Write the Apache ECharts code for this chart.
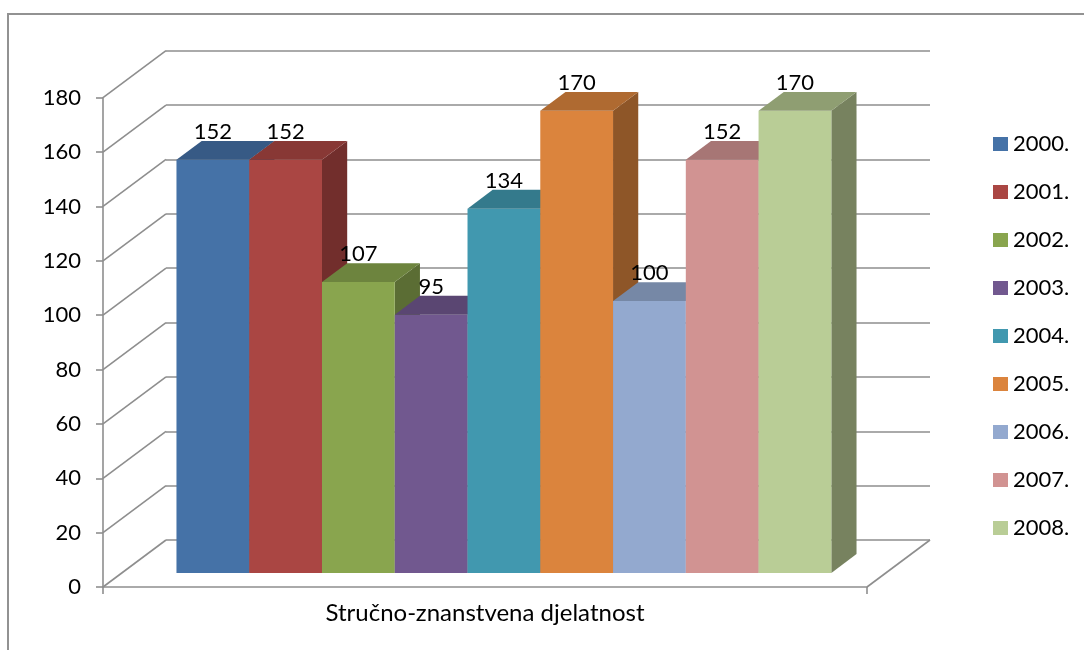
<!DOCTYPE html>
<html>
<head>
<meta charset="utf-8">
<script src="https://cdn.jsdelivr.net/npm/echarts@6/dist/echarts.min.js"></script>
<style>
html,body{margin:0;padding:0;background:#fff;}
#chart{width:1084px;height:650px;}
</style>
</head>
<body>
<div id="chart"></div>
<script>
// ---- data ----
const categories = ['Stručno-znanstvena djelatnost'];
const years = ['2000.', '2001.', '2002.', '2003.', '2004.', '2005.', '2006.', '2007.', '2008.'];
const values = [152, 152, 107, 95, 134, 170, 100, 152, 170];
const yTicks = [0, 20, 40, 60, 80, 100, 120, 140, 160, 180];

// ---- styles ----
const frontColors = ['#4572A7', '#AA4643', '#89A54E', '#71588F', '#4198AF', '#DB843D', '#93A9CF', '#D19392', '#B9CD96'];
const topColors   = ['#375A85', '#883835', '#6D843E', '#5A4672', '#347A8C', '#AF6A31', '#7688A6', '#A77675', '#8F9E72'];
const sideColors  = ['#2F4B6F', '#722E2C', '#5B6D34', '#4B3A5F', '#2B6574', '#8E5628', '#5F6E88', '#8A6160', '#77825F'];
const FONT = 'Lato, "Open Sans", sans-serif';
const DX = 63, DY = -47;          // full depth offset of the 3D box
const FRONT = 0.3, DEPTH = 0.4;   // bar front position and bar depth (fraction of box depth)
const GRID_COLOR = '#8e8e8e';

const chart = echarts.init(document.getElementById('chart'), null, {renderer: 'canvas'});

function makeBarRender(i) {
  return function (params, api) {
    const n = years.length;
    const base = api.coord([api.value(0), 0]);
    const top = api.coord([api.value(0), api.value(1)]);
    const band = api.size([1, 0])[0];
    const bw = band / (n + 1.5);
    const fx = FRONT * DX, fy = FRONT * DY;
    const dx = DEPTH * DX, dy = DEPTH * DY;
    const L = base[0] - band / 2 + 0.75 * bw + i * bw + fx;
    const R = L + bw;
    const T = top[1] + fy;
    const B = base[1] + fy;
    return {
      type: 'group',
      children: [
        {type: 'polygon', shape: {points: [[R, T], [R + dx, T + dy], [R + dx, B + dy], [R, B]]},
         style: {fill: sideColors[i]}},
        {type: 'rect', shape: {x: L, y: T, width: bw, height: B - T},
         style: {fill: frontColors[i]}},
        {type: 'polygon', shape: {points: [[L, T], [R, T], [R + dx, T + dy], [L + dx, T + dy]]},
         style: {fill: topColors[i]}},
        {type: 'text', z2: 100,
         style: {text: String(api.value(1)), x: (L + R) / 2, y: T + dy - 9,
                 align: 'center', verticalAlign: 'middle',
                 fill: '#000', font: '22px ' + FONT}}
      ]
    };
  };
}

const barSeries = years.map((y, i) => ({
  name: y,
  type: 'custom',
  xAxisIndex: 0,
  yAxisIndex: 0,
  z: 5,
  itemStyle: {color: frontColors[i]},
  renderItem: makeBarRender(i),
  data: [[0, values[i]]]
}));

const wallSeries = {
  type: 'custom',
  xAxisIndex: 0,
  yAxisIndex: 0,
  z: 1,
  silent: true,
  renderItem: function (params, api) {
    const cs = params.coordSys;
    const p = api.coord([0, api.value(1)]);
    const children = [
      {type: 'line', shape: {x1: cs.x, y1: p[1], x2: cs.x + DX, y2: p[1] + DY},
       style: {stroke: GRID_COLOR, lineWidth: 1.6}}
    ];
    if (api.value(1) === 0) {
      children.push({type: 'line',
        shape: {x1: cs.x + cs.width, y1: p[1], x2: cs.x + cs.width + DX, y2: p[1] + DY},
        style: {stroke: GRID_COLOR, lineWidth: 1.6}});
    }
    return {type: 'group', children: children};
  },
  data: yTicks.map(v => [0, v])
};

const option = {
  animation: false,
  backgroundColor: '#fff',
  graphic: [{
    type: 'rect', z: -10,
    shape: {x: 8, y: 14, width: 1100, height: 700},
    style: {fill: 'none', stroke: '#929292', lineWidth: 2}
  }],
  legend: {
    orient: 'vertical',
    left: 988,
    top: 128,
    itemWidth: 15,
    itemHeight: 14,
    itemGap: 26,
    icon: 'rect',
    data: years,
    textStyle: {fontFamily: FONT, fontSize: 22, color: '#000', lineHeight: 22}
  },
  grid: [
    {left: 103, right: 217, top: 97.7, bottom: 63},
    {left: 166, right: 154, top: 50.7, bottom: 110}
  ],
  xAxis: [
    {
      type: 'category', gridIndex: 0, data: categories,
      axisLine: {lineStyle: {color: GRID_COLOR, width: 1.6}},
      axisTick: {show: true, length: 7, lineStyle: {color: GRID_COLOR, width: 1.6}},
      axisLabel: {color: '#000', fontFamily: FONT, fontSize: 24, margin: 14},
      splitLine: {show: false}
    },
    {
      type: 'category', gridIndex: 1, data: categories,
      axisLine: {show: false}, axisTick: {show: false}, axisLabel: {show: false},
      splitLine: {show: false}
    }
  ],
  yAxis: [
    {
      type: 'value', gridIndex: 0, min: 0, max: 180, interval: 20,
      axisLine: {show: true, lineStyle: {color: GRID_COLOR, width: 1.6}},
      axisTick: {show: true, length: 7, lineStyle: {color: GRID_COLOR, width: 1.6}},
      axisLabel: {color: '#000', fontFamily: FONT, fontSize: 22, margin: 22,
                  customValues: yTicks},
      splitLine: {show: false}
    },
    {
      type: 'value', gridIndex: 1, min: 0, max: 180, interval: 20,
      axisLine: {show: false}, axisTick: {show: false}, axisLabel: {show: false},
      splitLine: {show: true, lineStyle: {color: GRID_COLOR, width: 1.6}}
    }
  ],
  series: barSeries.concat([wallSeries])
};

chart.setOption(option);
</script>
</body>
</html>
